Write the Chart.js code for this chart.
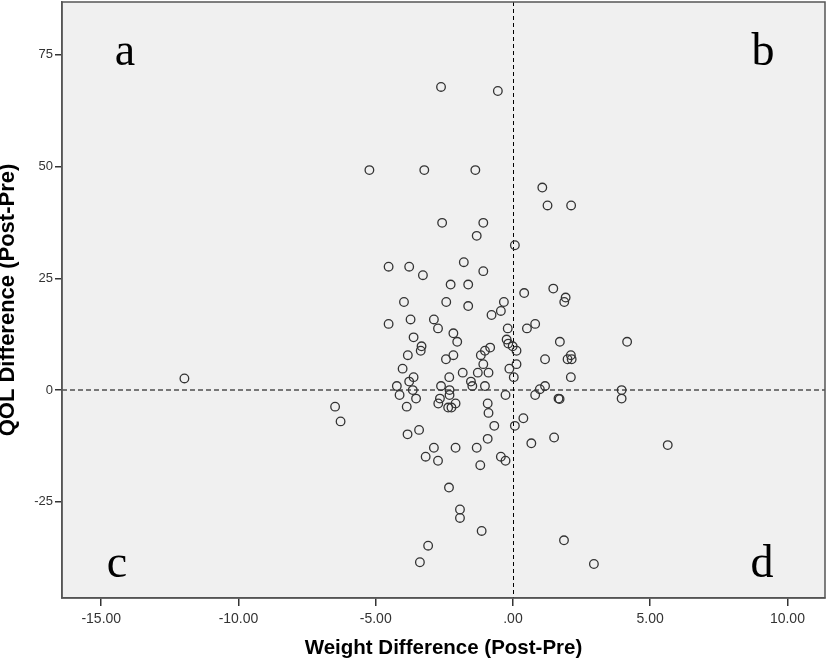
<!DOCTYPE html>
<html>
<head>
<meta charset="utf-8">
<script src="https://cdn.jsdelivr.net/npm/chart.js"></script>
<style>
    html, body { margin: 0; padding: 0; background: #ffffff; }
    #wrap { width: 827px; height: 662px; position: relative; }
</style>
</head>
<body>
<div id="wrap"><canvas id="qol-scatter"></canvas></div>
<script>
    'use strict';

    // Weight difference (x) and QOL difference (y)
    var weightDiff = [
        -2.62, -0.55, -5.23, -3.23, -1.37, 1.07, 1.26, 2.12, -2.58, -1.08,
        -1.32, 0.07, -4.53, -3.78, -3.28, -1.79, -1.08, -2.27, -1.63, 1.47,
        0.41, 1.92, 1.87, -3.97, -2.43, -0.33, -1.63, -0.44, -0.78, -4.53,
        -3.73, -2.88, -2.73, 0.81, 0.51, -0.19, -2.17, -3.62, -2.03, 1.71,
        4.16, -0.23, -0.17, -0.01, -3.33, -3.36, -0.83, -1.02, 0.13, -1.17,
        -2.17, -3.83, 2.11, 1.99, 2.14, 1.17, -2.44, -1.08, 0.13, -4.02,
        -0.13, -1.28, -0.89, -1.83, -3.62, -2.32, 0.03, 2.11, -3.78, -1.53,
        -1.48, -1.02, -4.23, -2.62, 1.17, 0.98, -3.65, -2.31, 3.96, -4.13,
        0.81, -0.27, -2.31, 1.66, 1.70, 3.96, -3.53, -2.66, -6.48, -3.87,
        -2.72, -2.09, -0.92, -2.36, -2.24, -6.28, -0.89, 0.38, 0.07, -0.68,
        -3.42, -3.84, -0.92, 1.50, 0.67, -2.88, -2.09, -1.32, -3.18, -2.73,
        -0.44, -0.27, -1.19, -2.33, -1.93, -1.93, -1.14, 1.86, -3.09, -3.39,
        2.95, 5.64, -11.97
    ];
    var qolDiff = [
        67.8, 66.9, 49.2, 49.2, 49.2, 45.3, 41.3, 41.3, 37.4, 37.4,
        34.5, 32.4, 27.6, 27.6, 25.7, 28.6, 26.6, 23.6, 23.6, 22.7,
        21.7, 20.7, 19.7, 19.7, 19.7, 19.7, 18.8, 17.7, 16.8, 14.8,
        15.8, 15.8, 13.8, 14.8, 13.8, 13.8, 12.7, 11.8, 10.8, 10.8,
        10.8, 11.3, 10.4, 9.8, 9.8, 8.8, 9.5, 8.8, 8.8, 7.8,
        7.8, 7.8, 7.8, 6.9, 6.9, 6.9, 6.9, 5.8, 5.8, 4.8,
        4.8, 3.9, 3.9, 3.9, 2.9, 2.9, 2.9, 2.9, 1.9, 1.9,
        0.9, 0.9, 0.9, 0.9, 0.9, 0.2, 0, 0, 0, -1.1,
        -1.1, -1.1, -1.1, -1.9, -2.0, -1.9, -1.9, -1.9, -3.7, -3.7,
        -3.0, -3.0, -3.0, -3.9, -3.9, -7.0, -5.1, -6.3, -8.0, -8.0,
        -8.9, -9.9, -10.9, -10.6, -11.9, -12.9, -12.9, -12.9, -14.9, -15.8,
        -14.9, -15.8, -16.8, -21.8, -26.7, -28.6, -31.5, -33.6, -34.8, -38.5,
        -38.9, -12.3, 2.6
    ];

    var xTicks = [-15, -10, -5, 0, 5, 10];
    var xTickLabels = ['-15.00', '-10.00', '-5.00', '.00', '5.00', '10.00'];
    var yTicks = [-25, 0, 25, 50, 75];
    var yTickLabels = ['-25', '0', '25', '50', '75'];
    var quadrantLabels = ['a', 'b', 'c', 'd'];

    var colors = {
        plotBg: '#f0f0f0',
        frame: '#555555',
        marker: '#333333',
        text: '#333333',
        title: '#000000',
        refX: '#000000',
        refY: '#777777'
    };

    var points = weightDiff.map(function(w, i) {
        return { x: w, y: qolDiff[i] };
    });

    function noEdgePadding(scale) {
        scale.paddingTop = 0;
        scale.paddingBottom = 0;
        scale.paddingLeft = 0;
        scale.paddingRight = 0;
    }

    var plotDecor = {
        id: 'plotDecor',
        beforeDraw: function(chart) {
            var ctx = chart.ctx;
            var a = chart.chartArea;
            ctx.save();
            ctx.fillStyle = '#ffffff';
            ctx.fillRect(0, 0, chart.width, chart.height);
            ctx.fillStyle = colors.plotBg;
            ctx.fillRect(a.left, a.top, a.right - a.left, a.bottom - a.top);
            ctx.restore();
        },
        beforeDatasetsDraw: function(chart) {
            var ctx = chart.ctx;
            var a = chart.chartArea;
            var x0 = chart.scales.x.getPixelForValue(0);
            var y0 = chart.scales.y.getPixelForValue(0);
            ctx.save();
            // horizontal reference line at 0
            ctx.strokeStyle = colors.refY;
            ctx.lineWidth = 2;
            ctx.setLineDash([5, 3]);
            ctx.beginPath();
            ctx.moveTo(a.left, Math.round(y0));
            ctx.lineTo(a.right, Math.round(y0));
            ctx.stroke();
            // vertical reference line at 0
            ctx.strokeStyle = colors.refX;
            ctx.lineWidth = 1;
            ctx.setLineDash([4, 3]);
            ctx.beginPath();
            ctx.moveTo(Math.round(x0) + 0.5, a.top);
            ctx.lineTo(Math.round(x0) + 0.5, a.bottom);
            ctx.stroke();
            ctx.restore();
        },
        afterDraw: function(chart) {
            var ctx = chart.ctx;
            var a = chart.chartArea;
            ctx.save();
            ctx.strokeStyle = colors.frame;
            ctx.lineWidth = 1.5;
            ctx.strokeRect(a.left, a.top, a.right - a.left, a.bottom - a.top);

            ctx.fillStyle = '#000000';
            ctx.font = '46px "Liberation Serif", "Times New Roman", serif';
            ctx.textAlign = 'center';
            ctx.textBaseline = 'alphabetic';
            ctx.fillText(quadrantLabels[0], a.left + 63, a.top + 63);
            ctx.fillText(quadrantLabels[1], a.right - 62, a.top + 63);
            ctx.fillText(quadrantLabels[2], a.left + 55, a.bottom - 21);
            ctx.fillText(quadrantLabels[3], a.right - 63, a.bottom - 21);
            ctx.restore();
        }
    };

    new Chart(document.getElementById('qol-scatter').getContext('2d'), {
        type: 'scatter',
        data: {
            datasets: [{
                label: 'QOL vs Weight',
                data: points,
                pointStyle: 'circle',
                pointRadius: 4.3,
                pointHoverRadius: 4.3,
                backgroundColor: 'rgba(0,0,0,0)',
                borderColor: colors.marker,
                borderWidth: 1.3
            }]
        },
        options: {
            responsive: true,
            maintainAspectRatio: false,
            animation: false,
            layout: {
                autoPadding: false,
                padding: { top: 2, right: 2, left: 0, bottom: 0 }
            },
            plugins: {
                legend: { display: false },
                tooltip: { enabled: false }
            },
            scales: {
                x: {
                    type: 'linear',
                    min: -16.43,
                    max: 11.37,
                    afterBuildTicks: function(scale) {
                        scale.ticks = xTicks.map(function(v) { return { value: v }; });
                    },
                    afterFit: function(scale) {
                        scale.height = 64;
                        noEdgePadding(scale);
                    },
                    grid: {
                        drawOnChartArea: false,
                        drawTicks: true,
                        tickLength: 8,
                        color: colors.text,
                        lineWidth: 1.5
                    },
                    border: { display: true, color: colors.frame, width: 1.5 },
                    ticks: {
                        color: colors.text,
                        padding: 5,
                        maxRotation: 0,
                        font: { family: '"Liberation Sans", Arial, sans-serif', size: 14 },
                        callback: function(value) {
                            var i = xTicks.indexOf(value);
                            return i >= 0 ? xTickLabels[i] : '';
                        }
                    },
                    title: {
                        display: true,
                        text: 'Weight Difference (Post-Pre)',
                        color: colors.title,
                        padding: { top: 0, bottom: 1 },
                        font: { family: '"Liberation Sans", Arial, sans-serif', size: 20.5, weight: 'bold' }
                    }
                },
                y: {
                    type: 'linear',
                    min: -46.5,
                    max: 86.8,
                    afterBuildTicks: function(scale) {
                        scale.ticks = yTicks.map(function(v) { return { value: v }; });
                    },
                    afterFit: function(scale) {
                        scale.width = 62;
                        noEdgePadding(scale);
                    },
                    grid: {
                        drawOnChartArea: false,
                        drawTicks: true,
                        tickLength: 7,
                        color: colors.text,
                        lineWidth: 1.5
                    },
                    border: { display: true, color: colors.frame, width: 1.5 },
                    ticks: {
                        color: colors.text,
                        padding: 2,
                        font: { family: '"Liberation Sans", Arial, sans-serif', size: 13 },
                        callback: function(value) {
                            var i = yTicks.indexOf(value);
                            return i >= 0 ? yTickLabels[i] : '';
                        }
                    },
                    title: {
                        display: true,
                        text: 'QOL Difference (Post-Pre)',
                        color: colors.title,
                        padding: { top: 0, bottom: 0 },
                        font: { family: '"Liberation Sans", Arial, sans-serif', size: 22, weight: 'bold', lineHeight: 0.75 }
                    }
                }
            }
        },
        plugins: [plotDecor]
    });
</script>
</body>
</html>
